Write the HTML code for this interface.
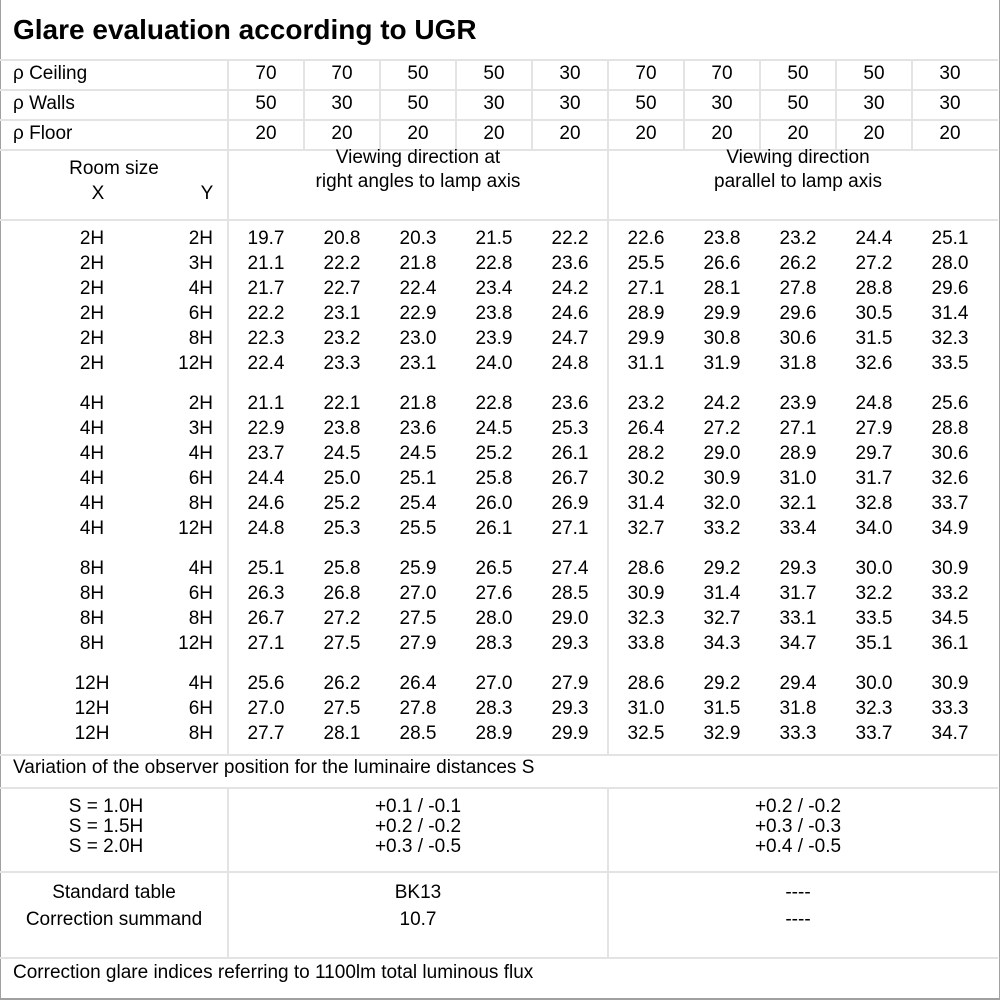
<!DOCTYPE html>
<html><head><meta charset="utf-8"><style>
body{margin:0;background:#fff;}
#p{position:relative;width:1000px;height:1000px;overflow:hidden;font-family:"Liberation Sans","DejaVu Sans",sans-serif;font-size:19px;color:#000;background:#fff;}
.h{position:absolute;left:0;width:998px;height:2px;background:#e3e3e3;}
.v{position:absolute;width:2px;background:#e3e3e3;}
.t{position:absolute;height:20px;line-height:20px;white-space:nowrap;}
.r{position:absolute;left:0;height:20px;line-height:20px;width:1000px;}
.r span{position:absolute;top:0;width:76px;text-align:center;}
.r .x{left:52px;width:80px;}
.r .y{left:133px;width:80px;text-align:right;}
</style></head><body><div id="p">
<div style="position:absolute;left:0;top:0;width:998px;height:998px;border:1px solid #a0a0a0;box-sizing:content-box;border-width:0 2px 2px 1px;"></div>
<div class="t" style="left:13px;top:15px;height:30px;line-height:30px;font-size:28px;font-weight:bold;">Glare evaluation according to UGR</div>
<div class="h" style="top:59px"></div><div class="h" style="top:89px"></div><div class="h" style="top:119px"></div><div class="h" style="top:149px"></div><div class="h" style="top:219px"></div><div class="h" style="top:754px"></div><div class="h" style="top:787px"></div><div class="h" style="top:871px"></div><div class="h" style="top:957px"></div>
<div class="v" style="left:227px;top:59px;height:696px"></div>
<div class="v" style="left:607px;top:59px;height:696px"></div>
<div class="v" style="left:303px;top:59px;height:91px"></div><div class="v" style="left:379px;top:59px;height:91px"></div><div class="v" style="left:455px;top:59px;height:91px"></div><div class="v" style="left:531px;top:59px;height:91px"></div><div class="v" style="left:683px;top:59px;height:91px"></div><div class="v" style="left:759px;top:59px;height:91px"></div><div class="v" style="left:835px;top:59px;height:91px"></div><div class="v" style="left:911px;top:59px;height:91px"></div>
<div class="v" style="left:227px;top:788px;height:170px"></div><div class="v" style="left:607px;top:788px;height:170px"></div>

<div class="t" style="left:13px;top:64px">ρ Ceiling</div>
<div class="t" style="left:13px;top:94px">ρ Walls</div>
<div class="t" style="left:13px;top:124px">ρ Floor</div>
<div class="r" style="top:64px"><span style="left:228px">70</span><span style="left:304px">70</span><span style="left:380px">50</span><span style="left:456px">50</span><span style="left:532px">30</span><span style="left:608px">70</span><span style="left:684px">70</span><span style="left:760px">50</span><span style="left:836px">50</span><span style="left:912px">30</span></div>
<div class="r" style="top:94px"><span style="left:228px">50</span><span style="left:304px">30</span><span style="left:380px">50</span><span style="left:456px">30</span><span style="left:532px">30</span><span style="left:608px">50</span><span style="left:684px">30</span><span style="left:760px">50</span><span style="left:836px">30</span><span style="left:912px">30</span></div>
<div class="r" style="top:124px"><span style="left:228px">20</span><span style="left:304px">20</span><span style="left:380px">20</span><span style="left:456px">20</span><span style="left:532px">20</span><span style="left:608px">20</span><span style="left:684px">20</span><span style="left:760px">20</span><span style="left:836px">20</span><span style="left:912px">20</span></div>

<div class="t" style="left:0;width:228px;text-align:center;top:159px">Room size</div>
<div class="t" style="left:78px;width:40px;text-align:center;top:184px">X</div>
<div class="t" style="left:187px;width:40px;text-align:center;top:184px">Y</div>
<div class="t" style="left:228px;width:380px;text-align:center;top:148px">Viewing direction at</div>
<div class="t" style="left:228px;width:380px;text-align:center;top:172px">right angles to lamp axis</div>
<div class="t" style="left:608px;width:380px;text-align:center;top:148px">Viewing direction</div>
<div class="t" style="left:608px;width:380px;text-align:center;top:172px">parallel to lamp axis</div>

<div class="r" style="top:229px"><span class="x">2H</span><span class="y">2H</span><span style="left:228px">19.7</span><span style="left:304px">20.8</span><span style="left:380px">20.3</span><span style="left:456px">21.5</span><span style="left:532px">22.2</span><span style="left:608px">22.6</span><span style="left:684px">23.8</span><span style="left:760px">23.2</span><span style="left:836px">24.4</span><span style="left:912px">25.1</span></div>
<div class="r" style="top:254px"><span class="x">2H</span><span class="y">3H</span><span style="left:228px">21.1</span><span style="left:304px">22.2</span><span style="left:380px">21.8</span><span style="left:456px">22.8</span><span style="left:532px">23.6</span><span style="left:608px">25.5</span><span style="left:684px">26.6</span><span style="left:760px">26.2</span><span style="left:836px">27.2</span><span style="left:912px">28.0</span></div>
<div class="r" style="top:279px"><span class="x">2H</span><span class="y">4H</span><span style="left:228px">21.7</span><span style="left:304px">22.7</span><span style="left:380px">22.4</span><span style="left:456px">23.4</span><span style="left:532px">24.2</span><span style="left:608px">27.1</span><span style="left:684px">28.1</span><span style="left:760px">27.8</span><span style="left:836px">28.8</span><span style="left:912px">29.6</span></div>
<div class="r" style="top:304px"><span class="x">2H</span><span class="y">6H</span><span style="left:228px">22.2</span><span style="left:304px">23.1</span><span style="left:380px">22.9</span><span style="left:456px">23.8</span><span style="left:532px">24.6</span><span style="left:608px">28.9</span><span style="left:684px">29.9</span><span style="left:760px">29.6</span><span style="left:836px">30.5</span><span style="left:912px">31.4</span></div>
<div class="r" style="top:329px"><span class="x">2H</span><span class="y">8H</span><span style="left:228px">22.3</span><span style="left:304px">23.2</span><span style="left:380px">23.0</span><span style="left:456px">23.9</span><span style="left:532px">24.7</span><span style="left:608px">29.9</span><span style="left:684px">30.8</span><span style="left:760px">30.6</span><span style="left:836px">31.5</span><span style="left:912px">32.3</span></div>
<div class="r" style="top:354px"><span class="x">2H</span><span class="y">12H</span><span style="left:228px">22.4</span><span style="left:304px">23.3</span><span style="left:380px">23.1</span><span style="left:456px">24.0</span><span style="left:532px">24.8</span><span style="left:608px">31.1</span><span style="left:684px">31.9</span><span style="left:760px">31.8</span><span style="left:836px">32.6</span><span style="left:912px">33.5</span></div>

<div class="r" style="top:394px"><span class="x">4H</span><span class="y">2H</span><span style="left:228px">21.1</span><span style="left:304px">22.1</span><span style="left:380px">21.8</span><span style="left:456px">22.8</span><span style="left:532px">23.6</span><span style="left:608px">23.2</span><span style="left:684px">24.2</span><span style="left:760px">23.9</span><span style="left:836px">24.8</span><span style="left:912px">25.6</span></div>
<div class="r" style="top:419px"><span class="x">4H</span><span class="y">3H</span><span style="left:228px">22.9</span><span style="left:304px">23.8</span><span style="left:380px">23.6</span><span style="left:456px">24.5</span><span style="left:532px">25.3</span><span style="left:608px">26.4</span><span style="left:684px">27.2</span><span style="left:760px">27.1</span><span style="left:836px">27.9</span><span style="left:912px">28.8</span></div>
<div class="r" style="top:444px"><span class="x">4H</span><span class="y">4H</span><span style="left:228px">23.7</span><span style="left:304px">24.5</span><span style="left:380px">24.5</span><span style="left:456px">25.2</span><span style="left:532px">26.1</span><span style="left:608px">28.2</span><span style="left:684px">29.0</span><span style="left:760px">28.9</span><span style="left:836px">29.7</span><span style="left:912px">30.6</span></div>
<div class="r" style="top:469px"><span class="x">4H</span><span class="y">6H</span><span style="left:228px">24.4</span><span style="left:304px">25.0</span><span style="left:380px">25.1</span><span style="left:456px">25.8</span><span style="left:532px">26.7</span><span style="left:608px">30.2</span><span style="left:684px">30.9</span><span style="left:760px">31.0</span><span style="left:836px">31.7</span><span style="left:912px">32.6</span></div>
<div class="r" style="top:494px"><span class="x">4H</span><span class="y">8H</span><span style="left:228px">24.6</span><span style="left:304px">25.2</span><span style="left:380px">25.4</span><span style="left:456px">26.0</span><span style="left:532px">26.9</span><span style="left:608px">31.4</span><span style="left:684px">32.0</span><span style="left:760px">32.1</span><span style="left:836px">32.8</span><span style="left:912px">33.7</span></div>
<div class="r" style="top:519px"><span class="x">4H</span><span class="y">12H</span><span style="left:228px">24.8</span><span style="left:304px">25.3</span><span style="left:380px">25.5</span><span style="left:456px">26.1</span><span style="left:532px">27.1</span><span style="left:608px">32.7</span><span style="left:684px">33.2</span><span style="left:760px">33.4</span><span style="left:836px">34.0</span><span style="left:912px">34.9</span></div>

<div class="r" style="top:559px"><span class="x">8H</span><span class="y">4H</span><span style="left:228px">25.1</span><span style="left:304px">25.8</span><span style="left:380px">25.9</span><span style="left:456px">26.5</span><span style="left:532px">27.4</span><span style="left:608px">28.6</span><span style="left:684px">29.2</span><span style="left:760px">29.3</span><span style="left:836px">30.0</span><span style="left:912px">30.9</span></div>
<div class="r" style="top:584px"><span class="x">8H</span><span class="y">6H</span><span style="left:228px">26.3</span><span style="left:304px">26.8</span><span style="left:380px">27.0</span><span style="left:456px">27.6</span><span style="left:532px">28.5</span><span style="left:608px">30.9</span><span style="left:684px">31.4</span><span style="left:760px">31.7</span><span style="left:836px">32.2</span><span style="left:912px">33.2</span></div>
<div class="r" style="top:609px"><span class="x">8H</span><span class="y">8H</span><span style="left:228px">26.7</span><span style="left:304px">27.2</span><span style="left:380px">27.5</span><span style="left:456px">28.0</span><span style="left:532px">29.0</span><span style="left:608px">32.3</span><span style="left:684px">32.7</span><span style="left:760px">33.1</span><span style="left:836px">33.5</span><span style="left:912px">34.5</span></div>
<div class="r" style="top:634px"><span class="x">8H</span><span class="y">12H</span><span style="left:228px">27.1</span><span style="left:304px">27.5</span><span style="left:380px">27.9</span><span style="left:456px">28.3</span><span style="left:532px">29.3</span><span style="left:608px">33.8</span><span style="left:684px">34.3</span><span style="left:760px">34.7</span><span style="left:836px">35.1</span><span style="left:912px">36.1</span></div>

<div class="r" style="top:674px"><span class="x">12H</span><span class="y">4H</span><span style="left:228px">25.6</span><span style="left:304px">26.2</span><span style="left:380px">26.4</span><span style="left:456px">27.0</span><span style="left:532px">27.9</span><span style="left:608px">28.6</span><span style="left:684px">29.2</span><span style="left:760px">29.4</span><span style="left:836px">30.0</span><span style="left:912px">30.9</span></div>
<div class="r" style="top:699px"><span class="x">12H</span><span class="y">6H</span><span style="left:228px">27.0</span><span style="left:304px">27.5</span><span style="left:380px">27.8</span><span style="left:456px">28.3</span><span style="left:532px">29.3</span><span style="left:608px">31.0</span><span style="left:684px">31.5</span><span style="left:760px">31.8</span><span style="left:836px">32.3</span><span style="left:912px">33.3</span></div>
<div class="r" style="top:724px"><span class="x">12H</span><span class="y">8H</span><span style="left:228px">27.7</span><span style="left:304px">28.1</span><span style="left:380px">28.5</span><span style="left:456px">28.9</span><span style="left:532px">29.9</span><span style="left:608px">32.5</span><span style="left:684px">32.9</span><span style="left:760px">33.3</span><span style="left:836px">33.7</span><span style="left:912px">34.7</span></div>

<div class="t" style="left:13px;top:758px">Variation of the observer position for the luminaire distances S</div>
<div class="t" style="left:0;width:212px;text-align:center;top:797px">S = 1.0H</div>
<div class="t" style="left:0;width:212px;text-align:center;top:817px">S = 1.5H</div>
<div class="t" style="left:0;width:212px;text-align:center;top:837px">S = 2.0H</div>
<div class="t" style="left:228px;width:380px;text-align:center;top:797px">+0.1 / -0.1</div>
<div class="t" style="left:228px;width:380px;text-align:center;top:817px">+0.2 / -0.2</div>
<div class="t" style="left:228px;width:380px;text-align:center;top:837px">+0.3 / -0.5</div>
<div class="t" style="left:608px;width:380px;text-align:center;top:797px">+0.2 / -0.2</div>
<div class="t" style="left:608px;width:380px;text-align:center;top:817px">+0.3 / -0.3</div>
<div class="t" style="left:608px;width:380px;text-align:center;top:837px">+0.4 / -0.5</div>
<div class="t" style="left:0;width:228px;text-align:center;top:883px">Standard table</div>
<div class="t" style="left:0;width:228px;text-align:center;top:910px">Correction summand</div>
<div class="t" style="left:228px;width:380px;text-align:center;top:883px">BK13</div>
<div class="t" style="left:228px;width:380px;text-align:center;top:910px">10.7</div>
<div class="t" style="left:608px;width:380px;text-align:center;top:883px">----</div>
<div class="t" style="left:608px;width:380px;text-align:center;top:910px">----</div>
<div class="t" style="left:13px;top:963px">Correction glare indices referring to 1100lm total luminous flux</div>
</div></body></html>
